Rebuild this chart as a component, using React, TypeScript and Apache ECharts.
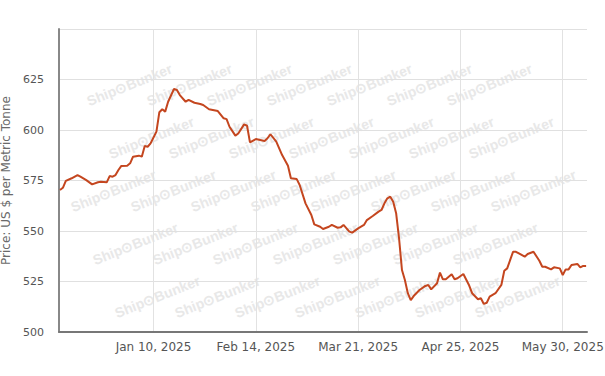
import React, { useEffect, useRef } from "react";
import * as echarts from "echarts";

const DATES: string[] = [
  "2024-12-09", "2024-12-10", "2024-12-11", "2024-12-13", "2024-12-15", "2024-12-16", "2024-12-18", "2024-12-20",
  "2024-12-22", "2024-12-23", "2024-12-25", "2024-12-26", "2024-12-27", "2024-12-28", "2024-12-29", "2024-12-30",
  "2025-01-01", "2025-01-02", "2025-01-03", "2025-01-05", "2025-01-06", "2025-01-07", "2025-01-08", "2025-01-09",
  "2025-01-11", "2025-01-12", "2025-01-13", "2025-01-14", "2025-01-15", "2025-01-17", "2025-01-18", "2025-01-19",
  "2025-01-21", "2025-01-22", "2025-01-24", "2025-01-26", "2025-01-27", "2025-01-29", "2025-02-01", "2025-02-03",
  "2025-02-04", "2025-02-05", "2025-02-07", "2025-02-08", "2025-02-10", "2025-02-11", "2025-02-12", "2025-02-14",
  "2025-02-17", "2025-02-18", "2025-02-19", "2025-02-21", "2025-02-23", "2025-02-25", "2025-02-26", "2025-02-28",
  "2025-03-01", "2025-03-03", "2025-03-05", "2025-03-06", "2025-03-08", "2025-03-09", "2025-03-11", "2025-03-12",
  "2025-03-14", "2025-03-15", "2025-03-16", "2025-03-18", "2025-03-19", "2025-03-21", "2025-03-23", "2025-03-24",
  "2025-03-26", "2025-03-28", "2025-03-29", "2025-03-30", "2025-03-31", "2025-04-01", "2025-04-02", "2025-04-03",
  "2025-04-04", "2025-04-05", "2025-04-06", "2025-04-07", "2025-04-08", "2025-04-09", "2025-04-11", "2025-04-13",
  "2025-04-14", "2025-04-15", "2025-04-17", "2025-04-18", "2025-04-19", "2025-04-20", "2025-04-22", "2025-04-23",
  "2025-04-24", "2025-04-26", "2025-04-28", "2025-04-29", "2025-05-01", "2025-05-02", "2025-05-03", "2025-05-04",
  "2025-05-05", "2025-05-07", "2025-05-09", "2025-05-10", "2025-05-11", "2025-05-13", "2025-05-14", "2025-05-15",
  "2025-05-17", "2025-05-18", "2025-05-20", "2025-05-22", "2025-05-23", "2025-05-24", "2025-05-26", "2025-05-27",
  "2025-05-29", "2025-05-30", "2025-05-31", "2025-06-01", "2025-06-02", "2025-06-04", "2025-06-05", "2025-06-06",
  "2025-06-07",
];

const PRICES: number[] = [
  570.3, 571.4, 574.8, 576.1, 577.7, 576.9, 575.2, 573.1,
  574.1, 574.4, 574.1, 577.2, 576.9, 577.7, 580.2, 582.2,
  582.3, 583.5, 586.8, 587.3, 586.8, 592.1, 591.7, 593.4,
  599.2, 608.8, 610.3, 609.1, 614.0, 620.3, 619.8, 617.3,
  614.0, 614.9, 613.5, 612.9, 612.4, 610.3, 609.4, 605.8,
  605.4, 601.6, 597.2, 598.3, 602.8, 602.1, 593.9, 595.5,
  594.6, 595.9, 597.9, 594.2, 587.6, 582.3, 576.1, 575.7,
  572.8, 563.7, 557.9, 553.3, 552.1, 551.0, 552.1, 553.0,
  551.6, 551.8, 553.0, 549.7, 549.2, 551.3, 553.0, 555.4,
  557.4, 559.6, 560.4, 563.7, 566.2, 567.0, 564.5, 558.8,
  546.4, 530.7, 525.7, 519.2, 515.8, 517.8, 520.8, 522.8,
  523.3, 521.1, 524.1, 529.4, 526.1, 526.1, 528.6, 526.1,
  526.6, 528.7, 523.0, 519.2, 516.2, 516.7, 513.9, 514.5,
  517.5, 519.2, 523.3, 530.3, 531.5, 539.7, 539.7, 538.9,
  537.3, 538.6, 539.7, 535.3, 532.3, 532.3, 531.0, 532.0,
  531.5, 528.2, 531.0, 531.0, 533.2, 533.7, 532.0, 532.7,
  532.7,
];

const X_TICKS: string[] = ["2025-01-10", "2025-02-14", "2025-03-21", "2025-04-25", "2025-05-30"];
const Y_MIN = 500;
const Y_MAX = 650;
const Y_STEP = 25;
const Y_TITLE = "Price: US $ per Metric Tonne";
const WATERMARK = "Ship\u2299Bunker";
const MONTHS = ["Jan", "Feb", "Mar", "Apr", "May", "Jun", "Jul", "Aug", "Sep", "Oct", "Nov", "Dec"];

const DAY = 86400000;
const toTs = (s: string) => {
  const [y, m, d] = s.split("-").map(Number);
  return Date.UTC(y, m - 1, d);
};
const fmt = (v: number) => {
  const d = new Date(v);
  return `${MONTHS[d.getUTCMonth()]} ${d.getUTCDate()}, ${d.getUTCFullYear()}`;
};

export default function App() {
  const ref = useRef<HTMLDivElement>(null);
  useEffect(() => {
    document.body.style.margin = "0";
    if (!ref.current) return;
    const chart = echarts.init(ref.current, undefined, { renderer: "svg" });

    const left = 59, right = 587, top = 29, bottom = 332;
    const marks: any[] = [];
    for (let k = -1; k < 8; k++) {
      const y = 55 + 53 * k;
      let x0 = 368 - 38 * k;
      while (x0 > left - 120) x0 -= 60;
      for (let x = x0; x < right; x += 60) {
        if (x >= left && x + 86 <= right && y - 46 >= top && y <= bottom) {
          marks.push({
            type: "text",
            x,
            y,
            rotation: 0.38,
            z: -10,
            silent: true,
            style: {
              text: WATERMARK,
              fill: "#e8e8e8",
              fontSize: 14,
              fontWeight: "bold",
              fontFamily: "Liberation Sans, Arial, sans-serif",
              align: "left",
              verticalAlign: "bottom",
            },
          });
        }
      }
    }

    const jan10 = toTs(X_TICKS[0]);
    const option: any = {
      animation: false,
      backgroundColor: "#ffffff",
      grid: {
        left: left,
        right: 605 - right,
        top: top,
        bottom: 376 - bottom,
        containLabel: false,
        outerBoundsMode: "none",
      },
      graphic: marks,
      xAxis: {
        type: "value",
        min: jan10 - 32.33 * DAY,
        max: jan10 + 148.3 * DAY,
        axisLine: { show: true, lineStyle: { color: "#777777", width: 2 } },
        axisTick: { show: false, customValues: X_TICKS.map(toTs) },
        axisLabel: {
          customValues: X_TICKS.map(toTs),
          formatter: (v: number) => fmt(v),
          color: "#555555",
          fontSize: 12,
          fontFamily: "DejaVu Sans",
          margin: 9,
        },
        splitLine: { show: true, lineStyle: { color: "#e2e2e2", width: 1 } },
      },
      yAxis: {
        type: "value",
        min: Y_MIN,
        max: Y_MAX,
        interval: Y_STEP,
        name: Y_TITLE,
        nameLocation: "middle",
        nameGap: 41,
        nameTextStyle: { color: "#6a6a6a", fontSize: 12, fontFamily: "DejaVu Sans" },
        axisLine: { show: true, lineStyle: { color: "#888888", width: 2 } },
        axisTick: { show: false },
        axisLabel: {
          color: "#555555",
          fontSize: 11,
          fontFamily: "DejaVu Sans",
          margin: 15,
          showMaxLabel: false,
          formatter: (v: number) => (v >= Y_MAX ? "" : String(v)),
        },
        splitLine: { show: true, lineStyle: { color: "#e0e0e0", width: 1 } },
      },
      series: [
        {
          type: "line",
          data: DATES.map((d, i) => [toTs(d), PRICES[i]]),
          showSymbol: false,
          symbol: "none",
          lineStyle: { color: "#c4461f", width: 2 },
          itemStyle: { color: "#c4461f" },
          z: 3,
        },
      ],
    };
    chart.setOption(option);
    return () => chart.dispose();
  }, []);
  return (
    <div
      ref={ref}
      style={{ position: "absolute", left: 0, top: 0, width: 605, height: 376, background: "#ffffff" }}
    />
  );
}
